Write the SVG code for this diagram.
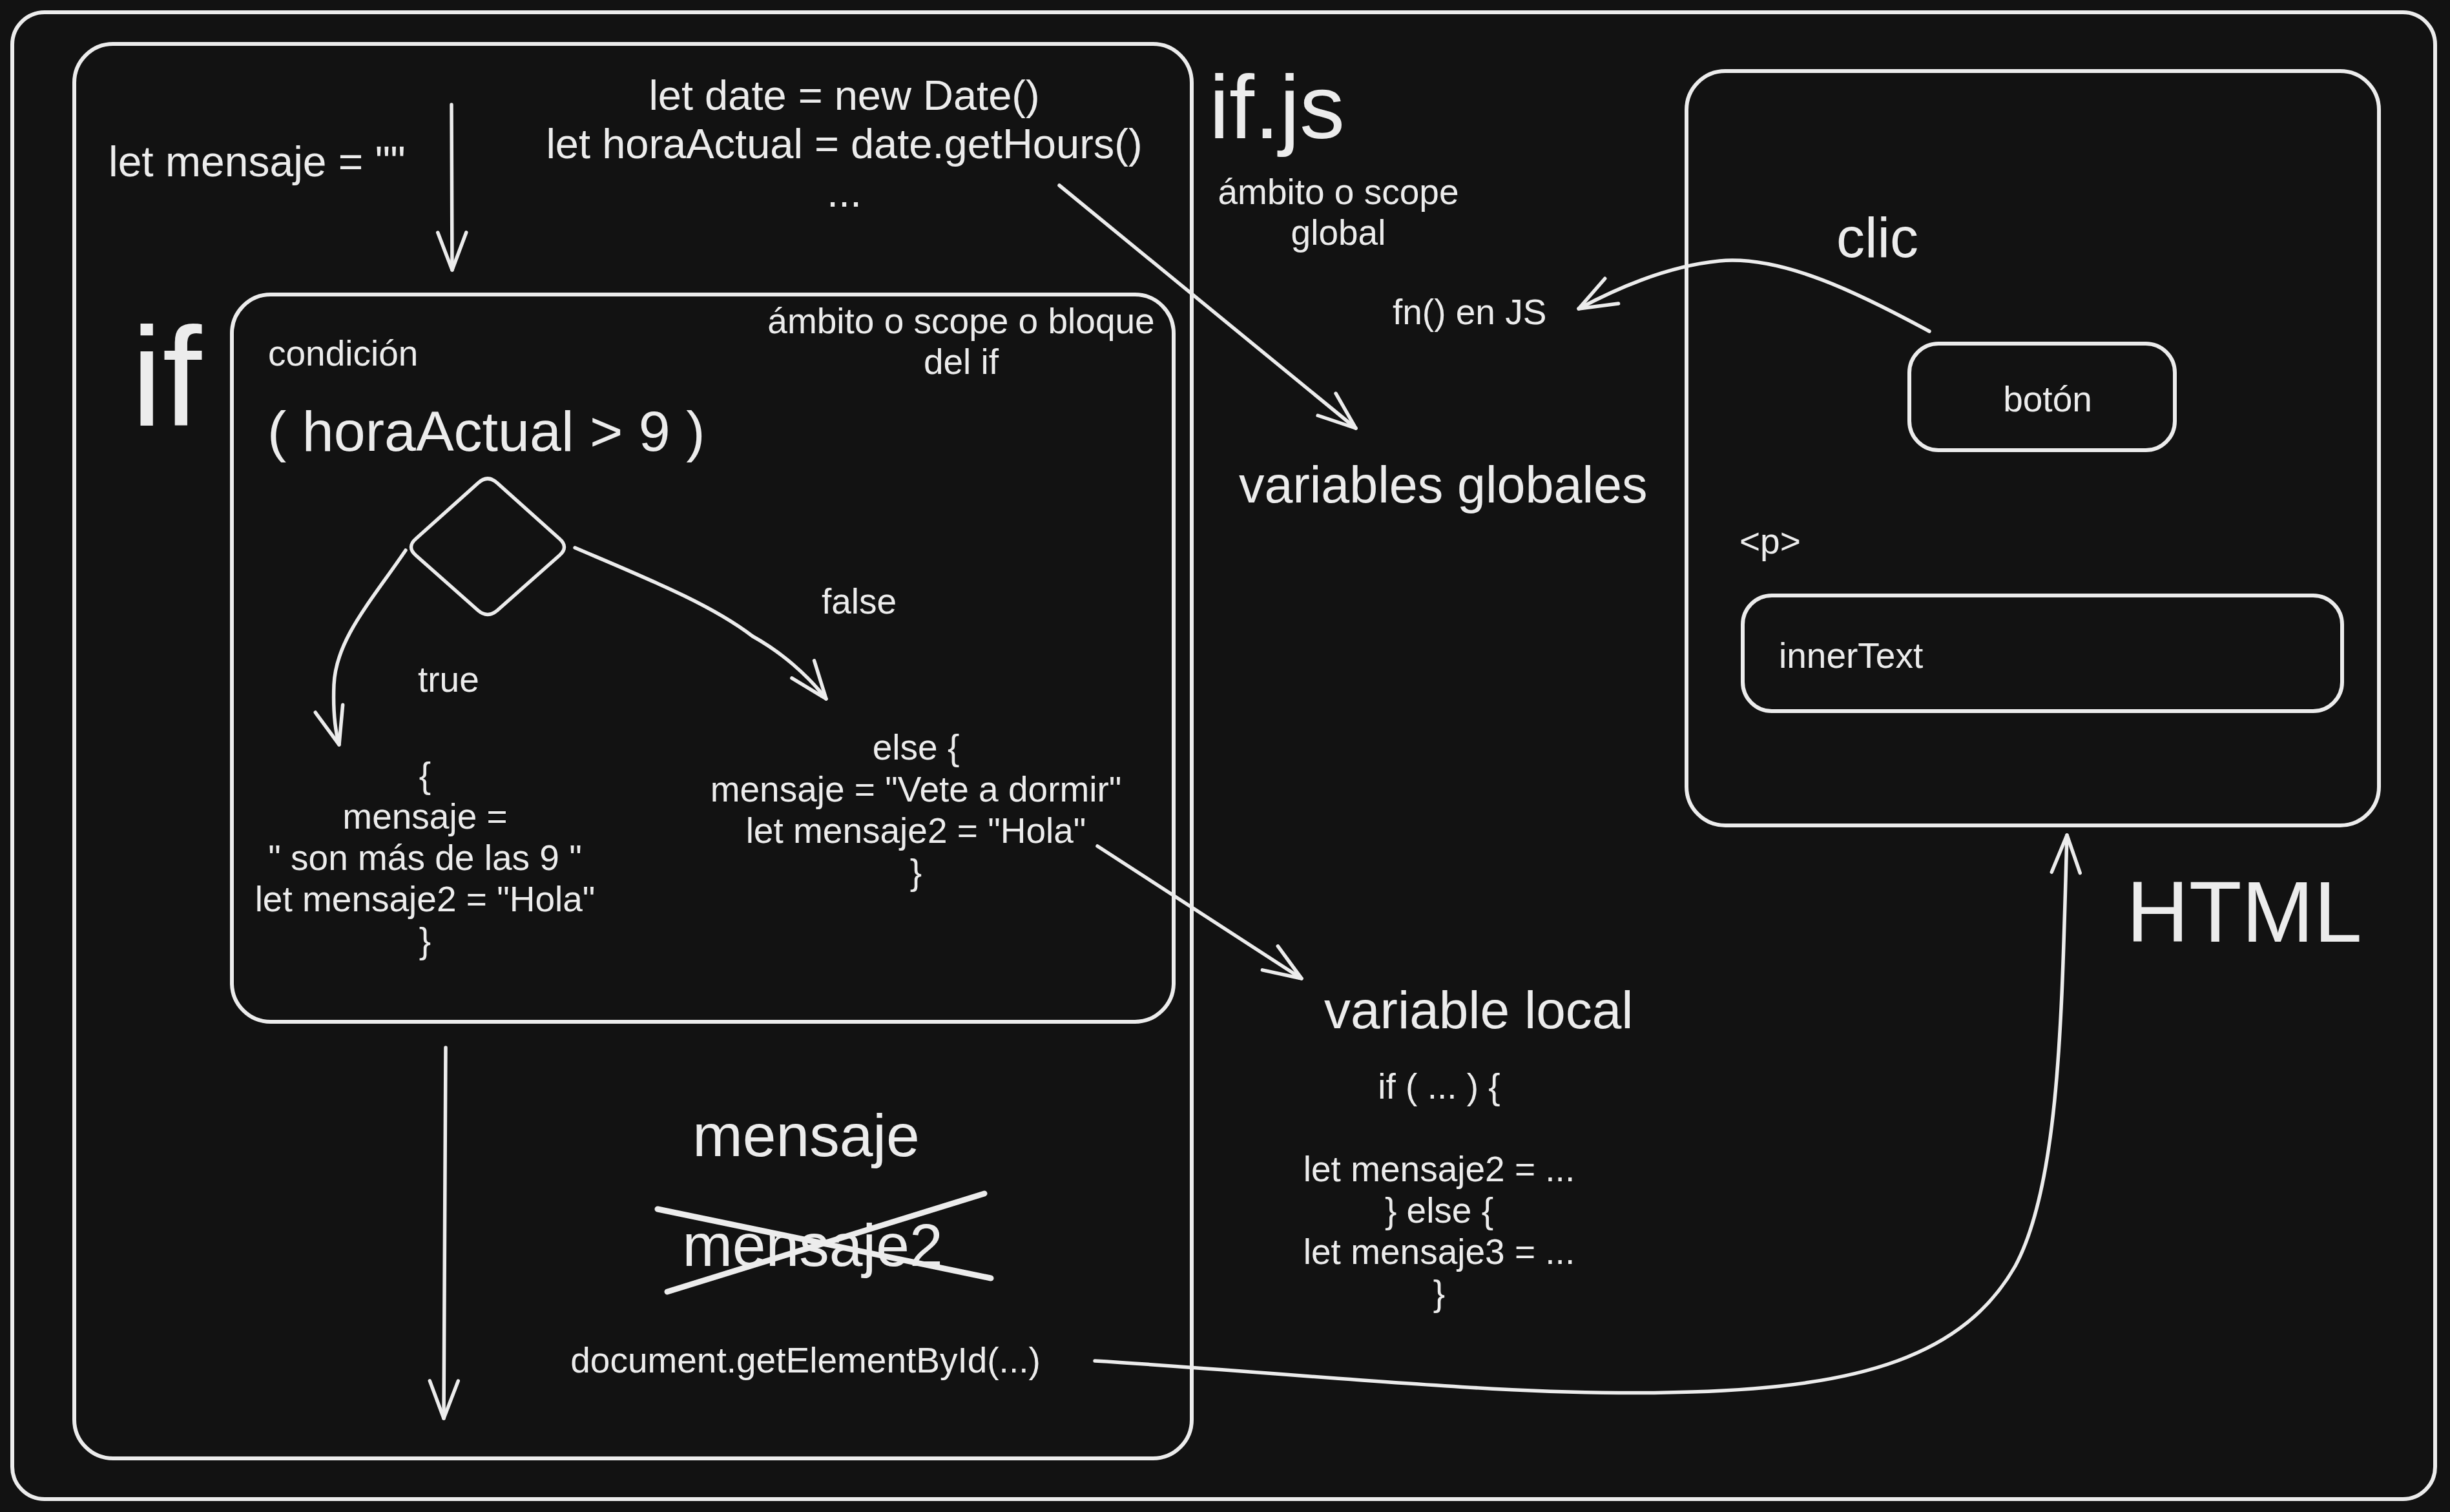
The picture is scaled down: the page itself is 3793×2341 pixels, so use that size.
<svg xmlns="http://www.w3.org/2000/svg" width="3793" height="2341" viewBox="0 0 3793 2341">
<style>
.fr{fill:none;stroke:#ececec;stroke-width:6;stroke-linejoin:round}
.ln{fill:none;stroke:#ececec;stroke-width:5.5;stroke-linecap:round;stroke-linejoin:round}
.x{fill:none;stroke:#ececec;stroke-width:9;stroke-linecap:round}
text{font-family:"Liberation Sans",Arial,Helvetica,sans-serif;fill:#ececec}
.s55{font-size:55px}
.s65{font-size:65px}
.c{text-anchor:middle}
</style>
<defs>
<marker id="ah" markerUnits="userSpaceOnUse" viewBox="0 0 66 50" refX="62" refY="25" markerWidth="66" markerHeight="50" orient="auto">
<path d="M4,3 L62,25 L4,47" fill="none" stroke="#ececec" stroke-width="5.5" stroke-linecap="round" stroke-linejoin="round"/>
</marker>
</defs>
<rect x="0" y="0" width="3793" height="2341" fill="#121212"/>

<g id="frame-outer"><rect class="fr" x="19" y="19" width="3751" height="2302" rx="50"/></g>

<g id="ifjs">
<rect class="fr" x="115" y="68" width="1730" height="2190" rx="60"/>
<text x="1872" y="214" style="font-size:140px">if.js</text>
<text class="s55 c" x="2072" y="316">ámbito o scope</text>
<text class="s55 c" x="2072" y="379">global</text>
</g>

<g id="globals-code">
<text x="168" y="273" style="font-size:66px">let mensaje = ""</text>
<text class="s65 c" x="1307" y="170">let date = new Date()</text>
<text class="s65 c" x="1307" y="245">let horaActual = date.getHours()</text>
<text class="s65 c" x="1307" y="320">...</text>
</g>

<g id="if-label"><text x="203" y="658" style="font-size:218px">if</text></g>

<g id="if-block">
<rect class="fr" x="359" y="456" width="1458" height="1126" rx="60"/>
<text class="s55" x="415" y="566">condición</text>
<text class="s55 c" x="1488" y="516">ámbito o scope o bloque</text>
<text class="s55 c" x="1488" y="579">del if</text>
<text x="414" y="698" style="font-size:88px">( horaActual &gt; 9 )</text>
</g>

<g id="diamond">
<path class="ln" d="M770,748 L866,834 Q881,847 866,860 L770,945 Q755,958 740,945 L644,860 Q629,847 644,834 L740,748 Q755,734 770,748 Z"/>
</g>

<g id="true-branch">
<text class="s55" x="647" y="1071">true</text>
<text class="s55 c" x="658" y="1219">{</text>
<text class="s55 c" x="658" y="1283">mensaje =</text>
<text class="s55 c" x="658" y="1347">" son más de las 9 "</text>
<text class="s55 c" x="658" y="1411">let mensaje2 = "Hola"</text>
<text class="s55 c" x="658" y="1475">}</text>
</g>

<g id="false-branch">
<text class="s55" x="1272" y="950">false</text>
<text class="s55 c" x="1418" y="1176">else {</text>
<text class="s55 c" x="1418" y="1241">mensaje = "Vete a dormir"</text>
<text class="s55 c" x="1418" y="1305">let mensaje2 = "Hola"</text>
<text class="s55 c" x="1418" y="1369">}</text>
</g>

<g id="after-if">
<text class="c" x="1248" y="1790" style="font-size:93px">mensaje</text>
<text class="c" x="1258" y="1960" style="font-size:93px">mensaje2</text>
<line class="x" x1="1018" y1="1872" x2="1534" y2="1979"/>
<line class="x" x1="1033" y1="2000" x2="1524" y2="1848"/>
<text class="s55 c" x="1247" y="2125">document.getElementById(...)</text>
</g>

<g id="variables-globales"><text x="1918" y="778" style="font-size:79px">variables globales</text></g>
<g id="fn-js"><text class="s55" x="2156" y="502">fn() en JS</text></g>

<g id="variable-local">
<text x="2050" y="1592" style="font-size:82px">variable local</text>
<text class="s55 c" x="2228" y="1701">if ( ... ) {</text>
<text class="s55 c" x="2228" y="1829">let mensaje2 = ...</text>
<text class="s55 c" x="2228" y="1893">} else {</text>
<text class="s55 c" x="2228" y="1957">let mensaje3 = ...</text>
<text class="s55 c" x="2228" y="2021">}</text>
</g>

<g id="html">
<rect class="fr" x="2611" y="110" width="1072" height="1168" rx="60"/>
<text x="2843" y="398" style="font-size:88px">clic</text>
<text class="s55" x="2693" y="857">&lt;p&gt;</text>
<text x="3292" y="1458" style="font-size:134px">HTML</text>
</g>
<g id="boton">
<rect class="fr" x="2956" y="532" width="411" height="165" rx="45"/>
<text class="s55 c" x="3170" y="637">botón</text>
</g>
<g id="innertext">
<rect class="fr" x="2698" y="922" width="928" height="179" rx="45"/>
<text class="s55" x="2754" y="1034">innerText</text>
</g>

<g id="connectors">
<path class="ln" d="M699,162 L700,418" marker-end="url(#ah)"/>
<path class="ln" d="M1640,287 L2099,663" marker-end="url(#ah)"/>
<path class="ln" d="M2987,513 C2880,455 2760,395 2662,404 C2580,412 2500,448 2444,478" marker-end="url(#ah)"/>
<path class="ln" d="M628,852 C575,930 520,990 517,1060 C515,1110 520,1135 525,1153" marker-end="url(#ah)"/>
<path class="ln" d="M890,848 C1000,895 1100,935 1165,985 C1210,1010 1250,1045 1279,1082" marker-end="url(#ah)"/>
<path class="ln" d="M1699,1310 L2015,1515" marker-end="url(#ah)"/>
<path class="ln" d="M690,1622 L687,2196" marker-end="url(#ah)"/>
<path class="ln" d="M1695,2107 C2000,2125 2350,2165 2620,2155 C2880,2147 3040,2100 3120,1960 C3190,1830 3192,1560 3200,1293" marker-end="url(#ah)"/>
</g>
</svg>
